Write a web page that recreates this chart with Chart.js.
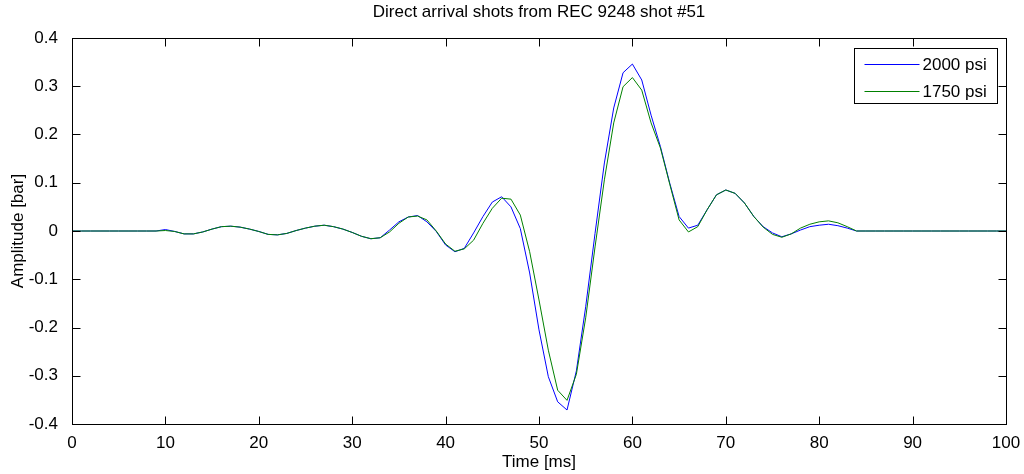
<!DOCTYPE html>
<html>
<head>
<meta charset="utf-8">
<title>Direct arrival shots</title>
<script src="https://cdn.jsdelivr.net/npm/chart.js@4.4.1/dist/chart.umd.min.js"></script>
<style>
  html, body { margin: 0; padding: 0; background: #fff; }
  #wrap { width: 1024px; height: 474px; }
</style>
</head>
<body>
<div id="wrap"><canvas id="shotChart" width="1024" height="474"></canvas></div>
<script>
// sample times [ms], 1 ms spacing
const timeMs = [
  0, 1, 2, 3, 4, 5, 6, 7, 8, 9,
  10, 11, 12, 13, 14, 15, 16, 17, 18, 19,
  20, 21, 22, 23, 24, 25, 26, 27, 28, 29,
  30, 31, 32, 33, 34, 35, 36, 37, 38, 39,
  40, 41, 42, 43, 44, 45, 46, 47, 48, 49,
  50, 51, 52, 53, 54, 55, 56, 57, 58, 59,
  60, 61, 62, 63, 64, 65, 66, 67, 68, 69,
  70, 71, 72, 73, 74, 75, 76, 77, 78, 79,
  80, 81, 82, 83, 84, 85, 86, 87, 88, 89,
  90, 91, 92, 93, 94, 95, 96, 97, 98, 99,
  100
];

// amplitude [bar], 2000 psi
const amp2000 = [
  0, 0, 0, 0, 0, 0, 0, 0, 0, 0,
  0.003, -0.001, -0.006, -0.006, -0.002, 0.004, 0.009, 0.010, 0.008, 0.004,
  -0.001, -0.007, -0.008, -0.005, 0.001, 0.006, 0.010, 0.012, 0.009, 0.004,
  -0.003, -0.011, -0.016, -0.014, 0.002, 0.019, 0.029, 0.032, 0.019, -0.001,
  -0.029, -0.043, -0.036, -0.004, 0.030, 0.060, 0.071, 0.050, 0.005, -0.087,
  -0.205, -0.302, -0.354, -0.371, -0.290, -0.157, -0.005, 0.141, 0.255, 0.328,
  0.346, 0.313, 0.240, 0.175, 0.099, 0.030, 0.006, 0.012, 0.044, 0.075,
  0.085, 0.078, 0.058, 0.030, 0.009, -0.004, -0.012, -0.006, 0.002, 0.009,
  0.012, 0.014, 0.011, 0.006, 0, 0, 0, 0, 0, 0,
  0, 0, 0, 0, 0, 0, 0, 0, 0, 0,
  0
];

// amplitude [bar], 1750 psi
const amp1750 = [
  0, 0, 0, 0, 0, 0, 0, 0, 0, 0,
  0.001, -0.001, -0.006, -0.006, -0.002, 0.004, 0.009, 0.010, 0.008, 0.004,
  -0.001, -0.007, -0.008, -0.005, 0.001, 0.006, 0.010, 0.012, 0.009, 0.004,
  -0.003, -0.011, -0.016, -0.014, -0.002, 0.016, 0.029, 0.031, 0.023, 0.000,
  -0.027, -0.042, -0.037, -0.019, 0.016, 0.047, 0.068, 0.066, 0.033, -0.043,
  -0.143, -0.247, -0.330, -0.351, -0.297, -0.180, -0.033, 0.106, 0.224, 0.299,
  0.318, 0.292, 0.224, 0.172, 0.097, 0.023, -0.002, 0.009, 0.044, 0.075,
  0.085, 0.078, 0.058, 0.030, 0.008, -0.007, -0.013, -0.006, 0.006, 0.014,
  0.019, 0.021, 0.017, 0.009, 0, 0, 0, 0, 0, 0,
  0, 0, 0, 0, 0, 0, 0, 0, 0, 0,
  0
];

const seriesNames = ['2000 psi', '1750 psi'];
const seriesColors = ['#0000ff', '#008000'];
const xTicks = [0, 10, 20, 30, 40, 50, 60, 70, 80, 90, 100];
const yTicks = [-0.4, -0.3, -0.2, -0.1, 0, 0.1, 0.2, 0.3, 0.4];

const chartTitle = 'Direct arrival shots from REC 9248 shot #51';
const FONT = "'Liberation Sans', Arial, Helvetica, sans-serif";
const FONT_SIZE = 17;

function toPoints(values) {
  return timeMs.map((t, i) => ({ x: t, y: values[i] }));
}

// box, inward tick marks, title and legend in matlab style
const matlabFrame = {
  id: 'matlabFrame',
  afterDraw(chart) {
    const ctx = chart.ctx;
    const a = chart.chartArea;
    const xs = chart.scales.x;
    const ys = chart.scales.y;
    const L = Math.round(a.left) + 0.5;
    const R = Math.round(a.right) + 0.5;
    const T = Math.round(a.top) + 0.5;
    const B = Math.round(a.bottom) + 0.5;
    const tick = 8;

    ctx.save();
    ctx.strokeStyle = '#000';
    ctx.lineWidth = 1;
    ctx.strokeRect(L, T, R - L, B - T);

    ctx.beginPath();
    xTicks.forEach(v => {
      const px = Math.round(xs.getPixelForValue(v)) + 0.5;
      ctx.moveTo(px, B); ctx.lineTo(px, B - tick);
      ctx.moveTo(px, T); ctx.lineTo(px, T + tick);
    });
    yTicks.forEach(v => {
      const py = Math.round(ys.getPixelForValue(v)) + 0.5;
      ctx.moveTo(L, py); ctx.lineTo(L + tick, py);
      ctx.moveTo(R, py); ctx.lineTo(R - tick, py);
    });
    ctx.stroke();

    // title
    ctx.fillStyle = '#000';
    ctx.font = FONT_SIZE + 'px ' + FONT;
    ctx.textAlign = 'center';
    ctx.textBaseline = 'middle';
    ctx.fillText(chartTitle, (a.left + a.right) / 2, 12);

    // legend box, top right
    const bw = 143, bh = 55;
    const bx = Math.round(a.right) - 9 - bw + 0.5;
    const by = Math.round(a.top) + 10 + 0.5;
    ctx.fillStyle = '#fff';
    ctx.fillRect(bx, by, bw, bh);
    ctx.strokeStyle = '#000';
    ctx.strokeRect(bx, by, bw, bh);

    ctx.textAlign = 'left';
    seriesNames.forEach((name, i) => {
      const ry = Math.round(by + 15 + i * 27) + 0.5;
      ctx.strokeStyle = seriesColors[i];
      ctx.beginPath();
      ctx.moveTo(bx + 10, ry);
      ctx.lineTo(bx + 65, ry);
      ctx.stroke();
      ctx.fillStyle = '#000';
      ctx.fillText(name, bx + 68, ry + 1);
    });
    ctx.restore();
  }
};

new Chart(document.getElementById('shotChart').getContext('2d'), {
  type: 'line',
  data: {
    datasets: [
      {
        label: seriesNames[0],
        data: toPoints(amp2000),
        borderColor: seriesColors[0],
        borderWidth: 1,
        pointRadius: 0,
        tension: 0,
        order: 2
      },
      {
        label: seriesNames[1],
        data: toPoints(amp1750),
        borderColor: seriesColors[1],
        borderWidth: 1,
        pointRadius: 0,
        tension: 0,
        order: 1
      }
    ]
  },
  options: {
    responsive: false,
    animation: false,
    devicePixelRatio: 1,
    layout: { padding: { top: 38, right: 18, left: 0, bottom: 0 } },
    plugins: {
      legend: { display: false },
      title: { display: false },
      tooltip: { enabled: false }
    },
    scales: {
      x: {
        type: 'linear',
        min: 0,
        max: 100,
        afterBuildTicks: scale => { scale.ticks = xTicks.map(v => ({ value: v })); },
        afterFit: scale => { scale.height = 50; },
        grid: { display: false },
        border: { display: false },
        ticks: {
          color: '#000',
          padding: 1,
          maxRotation: 0,
          font: { family: FONT, size: FONT_SIZE }
        },
        title: {
          display: true,
          text: 'Time [ms]',
          color: '#000',
          padding: { top: 0, bottom: 1 },
          font: { family: FONT, size: FONT_SIZE }
        }
      },
      y: {
        type: 'linear',
        min: -0.4,
        max: 0.4,
        afterBuildTicks: scale => { scale.ticks = yTicks.map(v => ({ value: v })); },
        afterFit: scale => { scale.width = 72; },
        grid: { display: false },
        border: { display: false },
        ticks: {
          color: '#000',
          padding: 6,
          font: { family: FONT, size: FONT_SIZE },
          callback: v => (Math.abs(v) < 1e-9 ? '0' : String(Math.round(v * 10) / 10))
        },
        title: {
          display: true,
          text: 'Amplitude [bar]',
          color: '#000',
          padding: { top: 8, bottom: 0 },
          font: { family: FONT, size: FONT_SIZE }
        }
      }
    }
  },
  plugins: [matlabFrame]
});
</script>
</body>
</html>
